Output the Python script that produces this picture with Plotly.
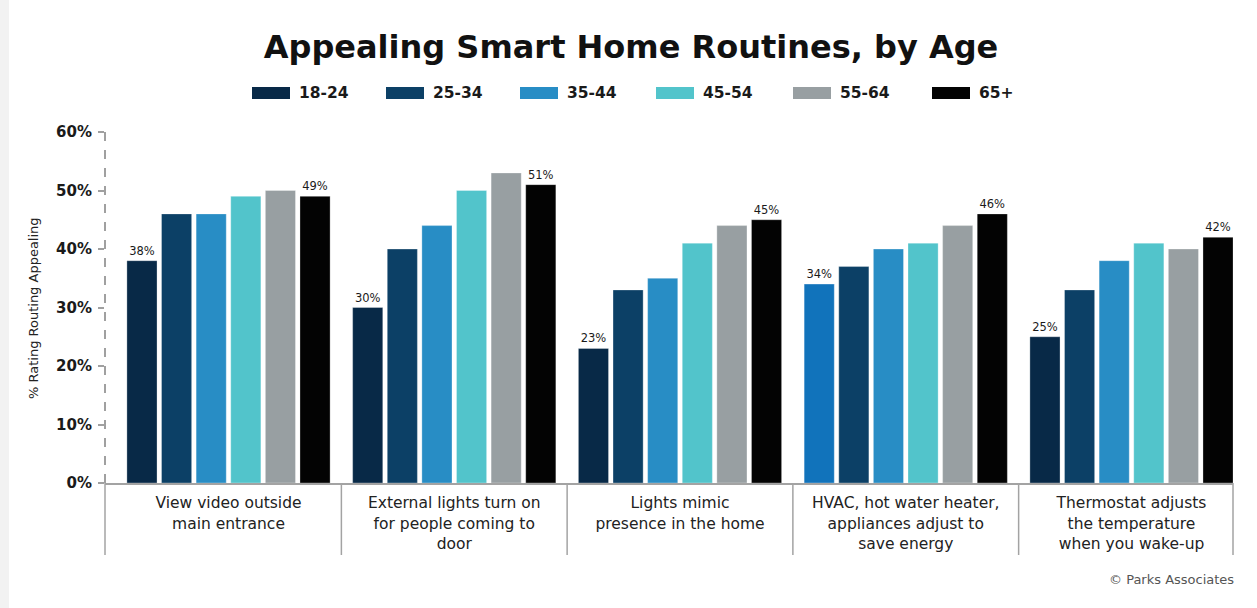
import plotly.graph_objects as go

categories = [
    "View video outside<br>main entrance",
    "External lights turn on<br>for people coming to<br>door",
    "Lights mimic<br>presence in the home",
    "HVAC, hot water heater,<br>appliances adjust to<br>save energy",
    "Thermostat adjusts<br>the temperature<br>when you wake-up",
]
age_groups = ["18-24", "25-34", "35-44", "45-54", "55-64", "65+"]
values = {
    "18-24": [38, 30, 23, 34, 25],
    "25-34": [46, 40, 33, 37, 33],
    "35-44": [46, 44, 35, 40, 38],
    "45-54": [49, 50, 41, 41, 41],
    "55-64": [50, 53, 44, 44, 40],
    "65+":   [49, 51, 45, 46, 42],
}
colors = {
    "18-24": "#082947",
    "25-34": "#0c4066",
    "35-44": "#288dc5",
    "45-54": "#52c4cb",
    "55-64": "#989fa2",
    "65+":   "#030303",
}
labelled = {"18-24", "65+"}

FONT = "DejaVu Sans"
W, H = 1257, 608
L, R, T, B = 105, 24, 132, 125
pw, ph = W - L - R, H - T - B

def px_x(x):
    return (x - L) / pw

def px_y(y):
    return (H - B - y) / ph

fig = go.Figure()
for g in age_groups:
    vals = values[g]
    col = [colors[g]] * len(vals)
    if g == "18-24":
        col[3] = "#1173bb"
    fig.add_trace(go.Bar(
        name=g, x=list(range(len(categories))), y=vals,
        marker=dict(color=col, line=dict(color="rgba(255,255,255,0.6)", width=0.5)),
        text=[f"{v}%" for v in vals] if g in labelled else None,
        textposition="outside", cliponaxis=False,
        textfont=dict(family=FONT, size=11.5, color="#1a1a1a"),
        showlegend=False,
    ))

shapes = []
annotations = []

# dashed value axis
shapes.append(dict(type="line", xref="paper", yref="y", x0=0, x1=0, y0=0, y1=60,
                   line=dict(color="#a0a0a0", width=2, dash="dash")))
# category dividers below the baseline
div_x = [("paper", 0)] + [("x", i - 0.5) for i in range(1, len(categories))] + [("paper", 1)]
for ref, xv in div_x:
    shapes.append(dict(type="line", xref=ref, yref="paper", x0=xv, x1=xv,
                       y0=0, y1=px_y(555), line=dict(color="#a3a3a3", width=1.5)))

# legend swatches and labels
legend_x = [252, 386, 520, 656, 793, 932]
for g, x0 in zip(age_groups, legend_x):
    shapes.append(dict(type="rect", xref="paper", yref="paper",
                       x0=px_x(x0), x1=px_x(x0 + 38), y0=px_y(99), y1=px_y(87),
                       fillcolor=colors[g], line=dict(width=0)))
    annotations.append(dict(text=f"<b>{g}</b>", xref="paper", yref="paper",
                            x=px_x(x0 + 45), y=px_y(93), xanchor="left", yanchor="middle",
                            showarrow=False, font=dict(family=FONT, size=15.5, color="#1a1a1a")))

annotations.append(dict(text="% Rating Routing Appealing", xref="paper", yref="paper",
                        x=px_x(33), y=px_y(308), textangle=-90, showarrow=False,
                        xanchor="center", yanchor="middle",
                        font=dict(family=FONT, size=13, color="#222")))
annotations.append(dict(text="© Parks Associates", xref="paper", yref="paper",
                        x=px_x(1236), y=px_y(579), xanchor="right", yanchor="middle",
                        showarrow=False, font=dict(family=FONT, size=13, color="#555")))

# faint strip on the left edge
shapes.append(dict(type="rect", xref="paper", yref="paper", x0=px_x(0), x1=px_x(9),
                   y0=px_y(608), y1=px_y(0), fillcolor="#f2f2f2", line=dict(width=0), layer="below"))

# category centres sit 225.75 px apart, the first at x = 228.5 px
unit = 225.75
x_lo = (L - 228.5) / unit
x_hi = x_lo + pw / unit

fig.update_layout(
    width=W, height=H,
    margin=dict(l=L, r=R, t=T, b=B),
    paper_bgcolor="white", plot_bgcolor="white",
    barmode="group", bargap=0.08, bargroupgap=0.13,
    title=dict(text="<b>Appealing Smart Home Routines, by Age</b>", x=0.502, xanchor="center",
               y=1 - 47 / H, yanchor="middle",
               font=dict(family=FONT, size=32, color="#111")),
    xaxis=dict(tickmode="array", tickvals=list(range(len(categories))), ticktext=categories,
               range=[x_lo, x_hi], showline=True, linecolor="#a3a3a3",
               linewidth=1.5, ticks="", showgrid=False, zeroline=False,
               ticklabelstandoff=5,
               tickfont=dict(family=FONT, size=15.5, color="#222")),
    yaxis=dict(range=[0, 60], dtick=10, ticksuffix="%", showgrid=False, zeroline=False,
               showline=False, ticks="outside", ticklen=6, tickcolor="#a0a0a0", tickwidth=1.5,
               ticklabelstandoff=3,
               tickfont=dict(family=FONT, size=15, color="#1a1a1a"), tickprefix="<b>",
               ),
    shapes=shapes, annotations=annotations,
    font=dict(family=FONT),
)

fig.write_html("out.html")
